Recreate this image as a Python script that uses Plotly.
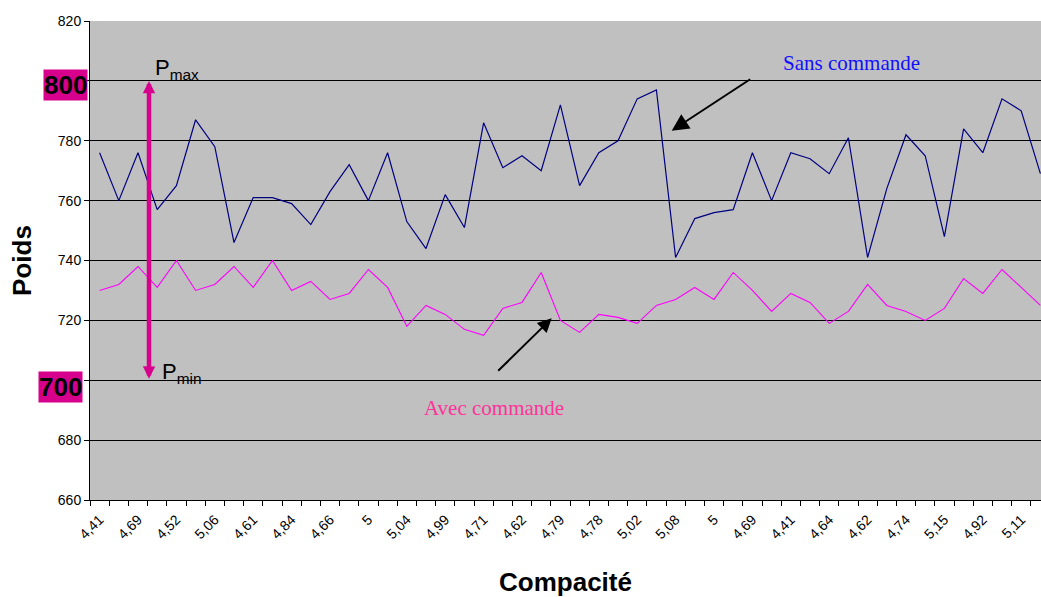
import plotly.graph_objects as go

# ---- data ----
compacite_labels = ["4,41", "4,69", "4,52", "5,06", "4,61", "4,84", "4,66", "5", "5,04", "4,99",
                    "4,71", "4,62", "4,79", "4,78", "5,02", "5,08", "5", "4,69", "4,41", "4,64",
                    "4,62", "4,74", "5,15", "4,92", "5,11"]
sans_commande = [776, 760, 776, 757, 765, 787, 778, 746, 761, 761,
                 759, 752, 763, 772, 760, 776, 753, 744, 762, 751,
                 786, 771, 775, 770, 792, 765, 776, 780, 794, 797,
                 741, 754, 756, 757, 776, 760, 776, 774, 769, 781,
                 741, 764, 782, 775, 748, 784, 776, 794, 790, 769]
avec_commande = [730, 732, 738, 731, 740, 730, 732, 738, 731, 740,
                 730, 733, 727, 729, 737, 731, 718, 725, 722, 717,
                 715, 724, 726, 736, 720, 716, 722, 721, 719, 725,
                 727, 731, 727, 736, 730, 723, 729, 726, 719, 723,
                 732, 725, 723, 720, 724, 734, 729, 737, 731, 725]
y_ticks = [660, 680, 700, 720, 740, 760, 780, 800, 820]
p_max, p_min = 800, 700

n = len(sans_commande)
x = list(range(n))
label_pos = [2 * i for i in range(len(compacite_labels))]
# 800 and 700 are shown as highlighted labels instead of plain tick labels
y_ticktext = ["" if v in (p_max, p_min) else str(v) for v in y_ticks]

MAG = "#D6008C"
FONT = "Arial, Liberation Sans, sans-serif"
SERIF = "Times New Roman, Liberation Serif, serif"

fig = go.Figure()
fig.add_trace(go.Scatter(x=x, y=sans_commande, mode="lines", name="Sans commande",
                         line=dict(color="#000080", width=1.2), hoverinfo="y"))
fig.add_trace(go.Scatter(x=x, y=avec_commande, mode="lines", name="Avec commande",
                         line=dict(color="#FF00FF", width=1.1), hoverinfo="y"))

W, H = 1041, 597
L, T, B = 90, 21, 97
plot_w = W - L
cat_px = 19.2
x_range = [-0.5, -0.5 + plot_w / cat_px]

fig.update_layout(
    width=W, height=H, autosize=False,
    margin=dict(l=L, r=0, t=T, b=B, autoexpand=False),
    paper_bgcolor="white", plot_bgcolor="#C0C0C0",
    showlegend=False,
    font=dict(family=FONT, color="black", size=14),
    xaxis=dict(
        range=x_range, showgrid=False, zeroline=False,
        showline=True, linecolor="black", linewidth=1,
        tickmode="array", tickvals=label_pos, ticktext=compacite_labels,
        ticks="", tickangle=-45, tickfont=dict(size=14, family=FONT),
        ticklabelstandoff=5,
        minor=dict(ticks="outside", tick0=-0.5, dtick=1, ticklen=5, tickcolor="black", showgrid=False),
        title=dict(text="<b>Compacité</b>", font=dict(size=26, family=FONT), standoff=31),
        automargin=False,
    ),
    yaxis=dict(
        range=[660, 820], tickmode="array", tickvals=y_ticks, ticktext=y_ticktext,
        showgrid=True, gridcolor="black", gridwidth=1, zeroline=False,
        showline=True, linecolor="black", linewidth=1,
        ticks="outside", ticklen=5, tickcolor="black",
        tickfont=dict(size=14, family=FONT),
        title=dict(text="<b>Poids</b>", font=dict(size=26, family=FONT), standoff=18),
        automargin=False,
    ),
)

def xd(px):
    return (px - (L + cat_px / 2)) / cat_px

def xp(px):
    return (px - L) / plot_w

def yd(py):
    return 820 - (py - T) * 160 / (500 - T)

ann = []
# magenta P max / P min arrow
ann.append(dict(x=xd(149), y=p_max, ax=xd(149), ay=p_min, xref="x", yref="y", axref="x", ayref="y",
                text="", showarrow=True, arrowside="end+start", arrowhead=2, startarrowhead=2,
                arrowsize=0.55, startarrowsize=0.55, arrowwidth=4.5, arrowcolor=MAG,
                standoff=0, startstandoff=0))
ann.append(dict(x=xd(153), y=yd(85), xref="x", yref="y", text="P<sub>max</sub>", showarrow=False,
                xanchor="left", yanchor="bottom", font=dict(size=22, family=FONT, color="black")))
ann.append(dict(x=xd(160), y=yd(389), xref="x", yref="y", text="P<sub>min</sub>", showarrow=False,
                xanchor="left", yanchor="bottom", font=dict(size=22, family=FONT, color="black")))
# highlighted tick labels
ann.append(dict(x=xp(65.3), y=yd(85.3), xref="paper", yref="y", xanchor="center", yanchor="middle",
                text="<b>800</b>", showarrow=False,
                bgcolor=MAG, borderpad=0, font=dict(size=26, family=FONT, color="black")))
ann.append(dict(x=xp(60.3), y=yd(387.3), xref="paper", yref="y", xanchor="center", yanchor="middle",
                text="<b>700</b>", showarrow=False,
                bgcolor=MAG, borderpad=0, font=dict(size=26, family=FONT, color="black")))
# series labels
ann.append(dict(x=xd(851), y=yd(63), xref="x", yref="y", text="Sans commande", showarrow=False,
                font=dict(size=21, family=SERIF, color="#1010FF")))
ann.append(dict(x=xd(494), y=yd(408), xref="x", yref="y", text="Avec commande", showarrow=False,
                font=dict(size=21, family=SERIF, color="#FF3399")))
# black arrows
ann.append(dict(x=xd(671.7), y=yd(130.7), xref="x", yref="y", ax=80, ay=-52.4, text="",
                showarrow=True, arrowhead=2, arrowsize=1.7, arrowwidth=2, arrowcolor="black", standoff=0))
ann.append(dict(x=xd(551.7), y=yd(318.3), xref="x", yref="y", ax=-55, ay=54, text="",
                showarrow=True, arrowhead=2, arrowsize=1.4, arrowwidth=2, arrowcolor="black", standoff=0))
fig.update_layout(annotations=ann)

fig.write_html(
    "out.html",
    config={"responsive": False, "displayModeBar": False},
    post_script="document.body.style.margin='0';document.body.style.padding='0';"
                "document.body.style.overflow='hidden';",
)
